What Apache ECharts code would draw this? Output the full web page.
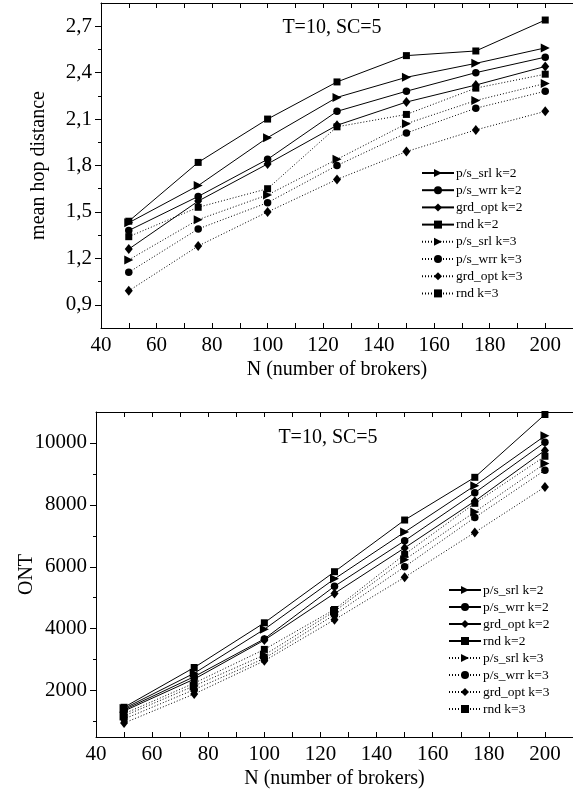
<!DOCTYPE html>
<html>
<head>
<meta charset="utf-8">
<script src="https://cdn.jsdelivr.net/npm/echarts@6/dist/echarts.min.js"></script>
<style>
  html, body { margin: 0; padding: 0; background: #fff; }
  #chart { width: 573px; height: 797px; }
</style>
</head>
<body>
<div id="chart"></div>
<script>
const brokers = [50, 75, 100, 125, 150, 175, 200]
const seriesNames = ['p/s_srl k=2', 'p/s_wrr k=2', 'grd_opt k=2', 'rnd k=2',
  'p/s_srl k=3', 'p/s_wrr k=3', 'grd_opt k=3', 'rnd k=3']

// mean hop distance (upper chart)
const hopSrlK2 = [1.43, 1.67, 1.98, 2.24, 2.37, 2.46, 2.56]
const hopWrrK2 = [1.38, 1.60, 1.84, 2.15, 2.28, 2.40, 2.50]
const hopGrdK2 = [1.26, 1.57, 1.81, 2.06, 2.21, 2.32, 2.44]
const hopRndK2 = [1.44, 1.82, 2.10, 2.34, 2.51, 2.54, 2.74]
const hopSrlK3 = [1.19, 1.45, 1.61, 1.84, 2.07, 2.22, 2.33]
const hopWrrK3 = [1.11, 1.39, 1.56, 1.80, 2.01, 2.17, 2.28]
const hopGrdK3 = [0.99, 1.28, 1.50, 1.71, 1.89, 2.03, 2.15]
const hopRndK3 = [1.34, 1.53, 1.65, 2.05, 2.13, 2.30, 2.39]

// ONT (lower chart)
const ontSrlK2 = [1420, 2560, 3980, 5610, 7120, 8620, 10230]
const ontWrrK2 = [1380, 2450, 3670, 5370, 6840, 8390, 10020]
const ontGrdK2 = [1340, 2370, 3630, 5140, 6610, 8120, 9760]
const ontRndK2 = [1460, 2745, 4190, 5840, 7510, 8890, 10920]
const ontSrlK3 = [1180, 2150, 3150, 4560, 6230, 7770, 9335]
const ontWrrK3 = [1080, 2030, 3040, 4450, 6000, 7590, 9120]
const ontGrdK3 = [950, 1890, 2960, 4290, 5660, 7110, 8580]
const ontRndK3 = [1250, 2240, 3330, 4620, 6400, 8050, 9570]

// tick labels
const xLabels = [40, 60, 80, 100, 120, 140, 160, 180, 200]
const xTicks = [40, 50, 60, 70, 80, 90, 100, 110, 120, 130, 140, 150, 160, 170, 180, 190, 200]
const hopLabels = [0.9, 1.2, 1.5, 1.8, 2.1, 2.4, 2.7]
const hopMinor = [1.05, 1.35, 1.65, 1.95, 2.25, 2.55]
const ontLabels = [2000, 4000, 6000, 8000, 10000]
const ontMinor = [1000, 3000, 5000, 7000, 9000]

const FONT = '"Liberation Serif", "Times New Roman", serif'
const symbols = ['triangle', 'circle', 'diamond', 'rect']
const symbolSizes = { triangle: 9, circle: 7.5, diamond: [8, 10], rect: 7 }

function makeSeries(name, values, chartIdx, idx) {
  const sym = symbols[idx % 4]
  const dotted = idx >= 4
  return {
    name: name,
    type: 'line',
    xAxisIndex: chartIdx * 2,
    yAxisIndex: chartIdx * 2,
    data: brokers.map((n, i) => [n, values[i]]),
    symbol: sym,
    symbolSize: symbolSizes[sym],
    symbolRotate: sym === 'triangle' ? -90 : 0,
    lineStyle: { color: '#000', width: 1, type: dotted ? [1, 2] : 'solid' },
    itemStyle: { color: '#000', borderWidth: 0 },
    emphasis: { disabled: true },
  }
}

const hopData = [hopSrlK2, hopWrrK2, hopGrdK2, hopRndK2, hopSrlK3, hopWrrK3, hopGrdK3, hopRndK3]
const ontData = [ontSrlK2, ontWrrK2, ontGrdK2, ontRndK2, ontSrlK3, ontWrrK3, ontGrdK3, ontRndK3]

const axisLine = { show: true, lineStyle: { color: '#000', width: 1 } }
const tickLabel = { color: '#000', fontFamily: FONT, fontSize: 21 }

function xAxisPair(gridIndex) {
  return [
    {
      type: 'value', gridIndex: gridIndex, min: 40, max: 210, position: 'bottom',
      name: 'N (number of brokers)', nameLocation: 'middle', nameGap: 32,
      nameTextStyle: { color: '#000', fontFamily: FONT, fontSize: 20 },
      axisLine: axisLine,
      axisTick: { show: true, inside: true, length: 5, customValues: xTicks, lineStyle: { color: '#000' } },
      axisLabel: Object.assign({ margin: 7, customValues: xLabels }, tickLabel),
      splitLine: { show: false },
    },
    {
      type: 'value', gridIndex: gridIndex, min: 40, max: 210, position: 'top',
      axisLine: axisLine,
      axisTick: { show: true, inside: true, length: 5, customValues: xTicks, lineStyle: { color: '#000' } },
      axisLabel: { show: false },
      splitLine: { show: false },
    },
  ]
}

function yAxisPair(gridIndex, min, max, labels, minor, name, gap, fmt) {
  return [
    {
      type: 'value', gridIndex: gridIndex, min: min, max: max, position: 'left',
      name: name, nameLocation: 'middle', nameGap: gap, nameMoveOverlap: false,
      nameTextStyle: { color: '#000', fontFamily: FONT, fontSize: 20 },
      axisLine: axisLine,
      axisTick: { show: true, inside: false, length: 6, customValues: labels, lineStyle: { color: '#000' } },
      axisLabel: Object.assign({ margin: 9, customValues: labels, formatter: fmt }, tickLabel),
      splitLine: { show: false },
    },
    {
      type: 'value', gridIndex: gridIndex, min: min, max: max, position: 'left',
      axisLine: { show: false },
      axisTick: { show: true, inside: false, length: 3, customValues: minor, lineStyle: { color: '#000' } },
      axisLabel: { show: false },
      splitLine: { show: false },
    },
  ]
}

function legendAt(left, top, gap) {
  return {
    data: seriesNames, orient: 'vertical', left: left, top: top,
    itemWidth: 32, itemHeight: 10, itemGap: gap, padding: 0,
    selectedMode: false,
    textStyle: { color: '#000', fontFamily: FONT, fontSize: 13.5, padding: [0, 0, 0, -3] },
  }
}

const chart = echarts.init(document.getElementById('chart'), null, { renderer: 'canvas' })
chart.setOption({
  animation: false,
  backgroundColor: '#fff',
  grid: [
    { left: 101, right: -7, top: 3, bottom: 469 },
    { left: 96, right: -2, top: 412, bottom: 60 },
  ],
  xAxis: xAxisPair(0).concat(xAxisPair(1)),
  yAxis: yAxisPair(0, 0.75, 2.85, hopLabels, hopMinor, 'mean hop distance', 52,
      v => v.toFixed(1).replace('.', ','))
    .concat(yAxisPair(1, 500, 11000, ontLabels, ontMinor, 'ONT', 59, v => String(v))),
  legend: [legendAt(421, 166, 3.2), legendAt(448, 583, 3)],
  graphic: [
    { type: 'text', x: 332, y: 28, style: { text: 'T=10, SC=5', fill: '#000', font: '20px ' + FONT, align: 'center', verticalAlign: 'middle' } },
    { type: 'text', x: 328, y: 438, style: { text: 'T=10, SC=5', fill: '#000', font: '20px ' + FONT, align: 'center', verticalAlign: 'middle' } },
  ],
  series: hopData.map((d, i) => makeSeries(seriesNames[i], d, 0, i))
    .concat(ontData.map((d, i) => makeSeries(seriesNames[i], d, 1, i))),
})
</script>
</body>
</html>
